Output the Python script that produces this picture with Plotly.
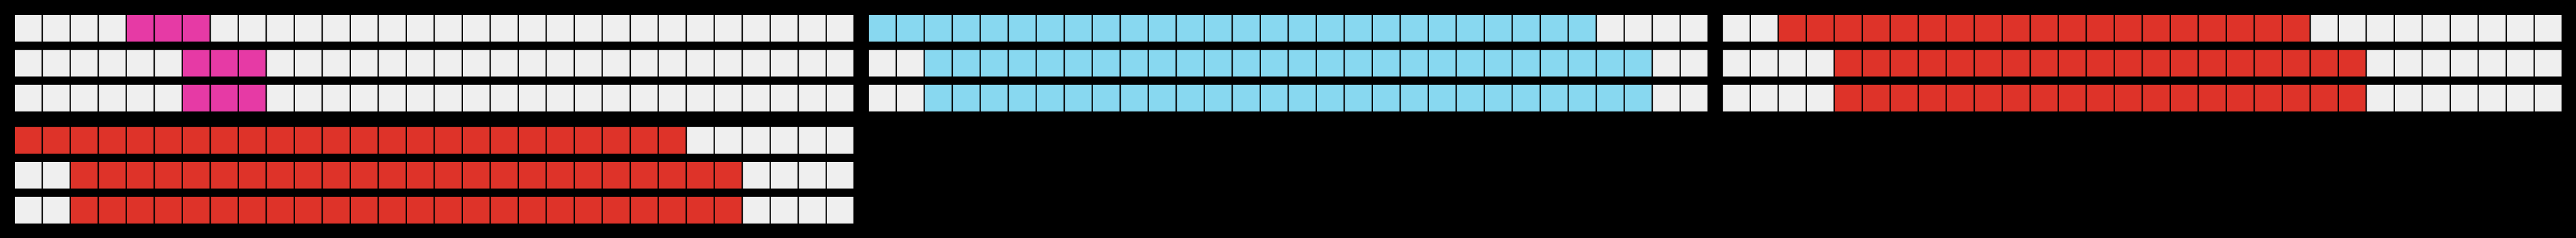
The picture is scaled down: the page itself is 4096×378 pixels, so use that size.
import plotly.graph_objects as go

# ---- data ----
n_cols = 30
row_labels = ["row 1", "row 2", "row 3"]
panel_colors = ["#E63AA5", "#88D8F0", "#DE3329", "#DE3329"]
empty_color = "#EFEFEF"
# first filled cell (0-based) per row, and number of filled cells per row
fill_start = [
    [4, 6, 6],
    [0, 2, 2],
    [2, 4, 4],
    [0, 2, 2],
]
fill_count = [
    [3, 3, 3],
    [26, 26, 26],
    [19, 19, 19],
    [24, 24, 24],
]

# ---- layout geometry (reference pixels) ----
REF_W, REF_H = 5888, 544
W, H = 4096, 378
CELL_PITCH_X, CELL_W = 64.0, 61.0
ROW_PITCH_Y, ROW_H = 80.0, 61.0
panel_left_px = [34, 1986, 3938, 34]
panel_top_px = [34, 34, 34, 290]

bar_w = CELL_W / CELL_PITCH_X          # bar width in column units
bar_h = ROW_H / ROW_PITCH_Y            # bar height in row units
n_rows = len(row_labels)
panel_w_px = (n_cols - 1) * CELL_PITCH_X + CELL_W
panel_h_px = (n_rows - 1) * ROW_PITCH_Y + ROW_H

fig = go.Figure()
cols = list(range(n_cols))
for p in range(4):
    ax = "" if p == 0 else str(p + 1)
    for r in range(n_rows):
        s, c = fill_start[p][r], fill_count[p][r]
        colors = [panel_colors[p] if s <= k < s + c else empty_color for k in cols]
        fig.add_trace(go.Bar(
            x=cols, y=[bar_h] * n_cols, base=[r - bar_h / 2] * n_cols,
            width=bar_w, marker=dict(color=colors, line=dict(width=0)),
            xaxis="x" + ax, yaxis="y" + ax,
            name=row_labels[r], showlegend=False,
            hovertemplate=row_labels[r] + ", cell %{x}<extra></extra>",
        ))
    x0 = panel_left_px[p]
    y0 = panel_top_px[p]
    fig.layout["xaxis" + ax] = dict(
        domain=[x0 / REF_W, (x0 + panel_w_px) / REF_W],
        range=[-bar_w / 2, n_cols - 1 + bar_w / 2],
        visible=False, fixedrange=True)
    fig.layout["yaxis" + ax] = dict(
        domain=[1 - (y0 + panel_h_px) / REF_H, 1 - y0 / REF_H],
        range=[n_rows - 1 + bar_h / 2, -bar_h / 2],
        visible=False, fixedrange=True)

fig.update_layout(
    width=W, height=H,
    margin=dict(l=0, r=0, t=0, b=0),
    paper_bgcolor="#000000", plot_bgcolor="#000000",
    barmode="overlay", showlegend=False,
)
fig.write_html(
    "out.html",
    config={"displayModeBar": False},
    post_script="document.body.style.margin='0';document.body.style.background='#000';"
                "document.body.style.overflow='hidden';",
)
